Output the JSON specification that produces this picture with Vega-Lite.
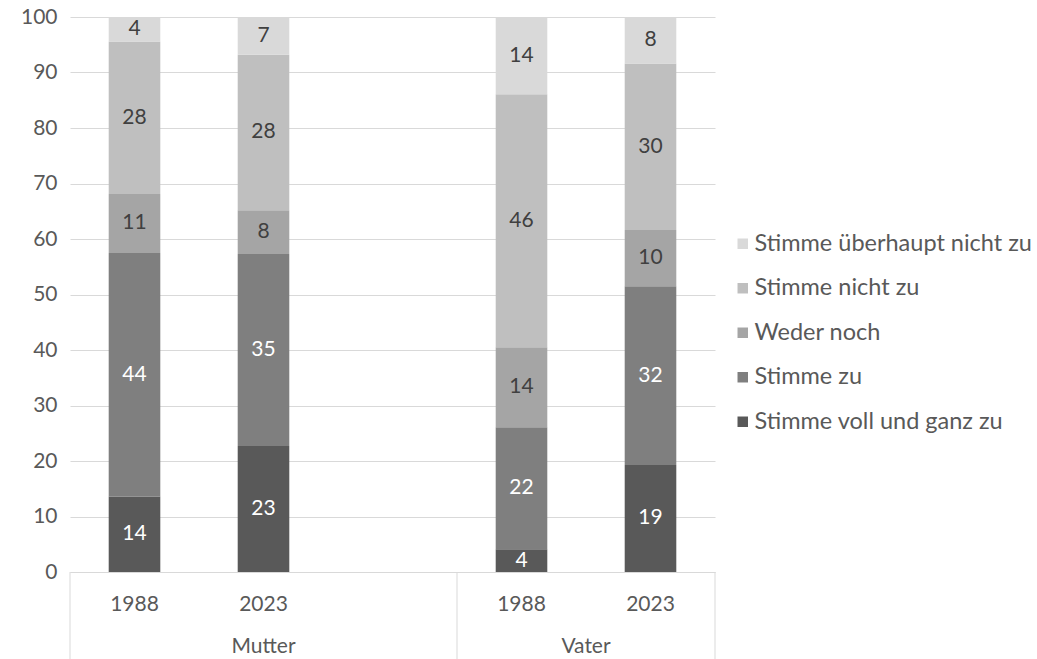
{
  "$schema": "https://vega.github.io/schema/vega-lite/v6.json",
  "width": 645,
  "height": 555,
  "autosize": "none",
  "padding": {"left": 70, "top": 17, "right": 322, "bottom": 87},
  "config": {"view": {"stroke": null}, "font": "Lato"},
  "datasets": {
    "resp": [
      {"gruppe": "Mutter", "jahr": "1988", "cat": "Mutter 1988", "antwort": "Stimme voll und ganz zu", "k": 1, "wert": 13.6},
      {"gruppe": "Mutter", "jahr": "1988", "cat": "Mutter 1988", "antwort": "Stimme zu", "k": 2, "wert": 43.9},
      {"gruppe": "Mutter", "jahr": "1988", "cat": "Mutter 1988", "antwort": "Weder noch", "k": 3, "wert": 10.6},
      {"gruppe": "Mutter", "jahr": "1988", "cat": "Mutter 1988", "antwort": "Stimme nicht zu", "k": 4, "wert": 27.5},
      {"gruppe": "Mutter", "jahr": "1988", "cat": "Mutter 1988", "antwort": "Stimme überhaupt nicht zu", "k": 5, "wert": 4.4},
      {"gruppe": "Mutter", "jahr": "2023", "cat": "Mutter 2023", "antwort": "Stimme voll und ganz zu", "k": 1, "wert": 22.7},
      {"gruppe": "Mutter", "jahr": "2023", "cat": "Mutter 2023", "antwort": "Stimme zu", "k": 2, "wert": 34.6},
      {"gruppe": "Mutter", "jahr": "2023", "cat": "Mutter 2023", "antwort": "Weder noch", "k": 3, "wert": 7.9},
      {"gruppe": "Mutter", "jahr": "2023", "cat": "Mutter 2023", "antwort": "Stimme nicht zu", "k": 4, "wert": 28.0},
      {"gruppe": "Mutter", "jahr": "2023", "cat": "Mutter 2023", "antwort": "Stimme überhaupt nicht zu", "k": 5, "wert": 6.8},
      {"gruppe": "Vater", "jahr": "1988", "cat": "Vater 1988", "antwort": "Stimme voll und ganz zu", "k": 1, "wert": 4.1},
      {"gruppe": "Vater", "jahr": "1988", "cat": "Vater 1988", "antwort": "Stimme zu", "k": 2, "wert": 22.0},
      {"gruppe": "Vater", "jahr": "1988", "cat": "Vater 1988", "antwort": "Weder noch", "k": 3, "wert": 14.4},
      {"gruppe": "Vater", "jahr": "1988", "cat": "Vater 1988", "antwort": "Stimme nicht zu", "k": 4, "wert": 45.6},
      {"gruppe": "Vater", "jahr": "1988", "cat": "Vater 1988", "antwort": "Stimme überhaupt nicht zu", "k": 5, "wert": 13.9},
      {"gruppe": "Vater", "jahr": "2023", "cat": "Vater 2023", "antwort": "Stimme voll und ganz zu", "k": 1, "wert": 19.3},
      {"gruppe": "Vater", "jahr": "2023", "cat": "Vater 2023", "antwort": "Stimme zu", "k": 2, "wert": 32.2},
      {"gruppe": "Vater", "jahr": "2023", "cat": "Vater 2023", "antwort": "Weder noch", "k": 3, "wert": 10.1},
      {"gruppe": "Vater", "jahr": "2023", "cat": "Vater 2023", "antwort": "Stimme nicht zu", "k": 4, "wert": 30.0},
      {"gruppe": "Vater", "jahr": "2023", "cat": "Vater 2023", "antwort": "Stimme überhaupt nicht zu", "k": 5, "wert": 8.4}
    ]
  },
  "layer": [
    {
      "data": {"name": "resp"},
      "transform": [
        {"stack": "wert", "groupby": ["cat"], "sort": [{"field": "k", "order": "ascending"}], "as": ["y0", "y1"]},
        {"calculate": "(datum.y0 + datum.y1) / 2", "as": "ym"}
      ],
      "layer": [
        {
          "mark": {"type": "bar", "width": {"band": 0.4}},
          "encoding": {
            "x": {
              "field": "cat", "type": "nominal", "title": null,
              "scale": {"type": "band", "domain": ["Mutter 1988", "Mutter 2023", " ", "Vater 1988", "Vater 2023"], "paddingInner": 0, "paddingOuter": 0},
              "axis": {"labelExpr": "slice(datum.value, -4)", "labelFontSize": 21, "labelColor": "#595959", "labelPadding": 21, "ticks": false, "domainColor": "#d9d9d9", "labelAngle": 0, "grid": false}
            },
            "y": {
              "field": "y0", "type": "quantitative", "title": null,
              "scale": {"domain": [0, 100]},
              "axis": {"values": [0, 10, 20, 30, 40, 50, 60, 70, 80, 90, 100], "domain": false, "ticks": false, "labelFontSize": 21, "labelColor": "#595959", "labelPadding": 13, "grid": true, "gridColor": "#d9d9d9"}
            },
            "y2": {"field": "y1"},
            "color": {
              "field": "antwort", "type": "nominal",
              "scale": {
                "domain": ["Stimme überhaupt nicht zu", "Stimme nicht zu", "Weder noch", "Stimme zu", "Stimme voll und ganz zu"],
                "range": ["#d9d9d9", "#bfbfbf", "#a5a5a5", "#7f7f7f", "#595959"]
              },
              "legend": {"title": null, "orient": "none", "legendX": 661, "legendY": 215, "symbolType": "square", "symbolSize": 110, "symbolStrokeWidth": 0, "labelFontSize": 23.5, "labelColor": "#595959", "labelLimit": 400, "rowPadding": 19.5, "labelOffset": 0}
            }
          }
        },
        {
          "mark": {"type": "text", "fontSize": 21, "baseline": "middle"},
          "encoding": {
            "x": {"field": "cat", "type": "nominal", "title": null},
            "y": {"field": "ym", "type": "quantitative", "title": null, "scale": {"domain": [0, 100]}},
            "text": {"field": "wert", "type": "quantitative", "format": ".0f"},
            "color": {"condition": {"test": "datum.k <= 2", "value": "#ffffff"}, "value": "#404040"}
          }
        }
      ]
    },
    {
      "data": {"values": [{"cat": "Mutter 1988"}, {"cat": "Vater 1988"}]},
      "mark": {"type": "rule", "color": "#d9d9d9", "strokeWidth": 1},
      "encoding": {
        "x": {"field": "cat", "type": "nominal", "title": null, "bandPosition": 0},
        "y": {"datum": 0, "type": "quantitative", "title": null, "scale": {"domain": [0, 100]}},
        "y2": {"datum": -15.7}
      }
    },
    {
      "data": {"values": [{"cat": "Vater 2023"}]},
      "mark": {"type": "rule", "color": "#d9d9d9", "strokeWidth": 1},
      "encoding": {
        "x": {"field": "cat", "type": "nominal", "title": null, "bandPosition": 1},
        "y": {"datum": 0, "type": "quantitative", "title": null, "scale": {"domain": [0, 100]}},
        "y2": {"datum": -15.7}
      }
    },
    {
      "data": {"values": [{"cat": "Mutter 2023", "gruppe": "Mutter"}]},
      "mark": {"type": "text", "fontSize": 21, "color": "#595959", "baseline": "middle"},
      "encoding": {
        "x": {"field": "cat", "type": "nominal", "title": null, "bandPosition": 0.5},
        "y": {"datum": -13.5, "type": "quantitative", "title": null, "scale": {"domain": [0, 100]}},
        "text": {"field": "gruppe"}
      }
    },
    {
      "data": {"values": [{"cat": "Vater 1988", "gruppe": "Vater"}]},
      "mark": {"type": "text", "fontSize": 21, "color": "#595959", "baseline": "middle"},
      "encoding": {
        "x": {"field": "cat", "type": "nominal", "title": null, "bandPosition": 1},
        "y": {"datum": -13.5, "type": "quantitative", "title": null, "scale": {"domain": [0, 100]}},
        "text": {"field": "gruppe"}
      }
    }
  ]
}
